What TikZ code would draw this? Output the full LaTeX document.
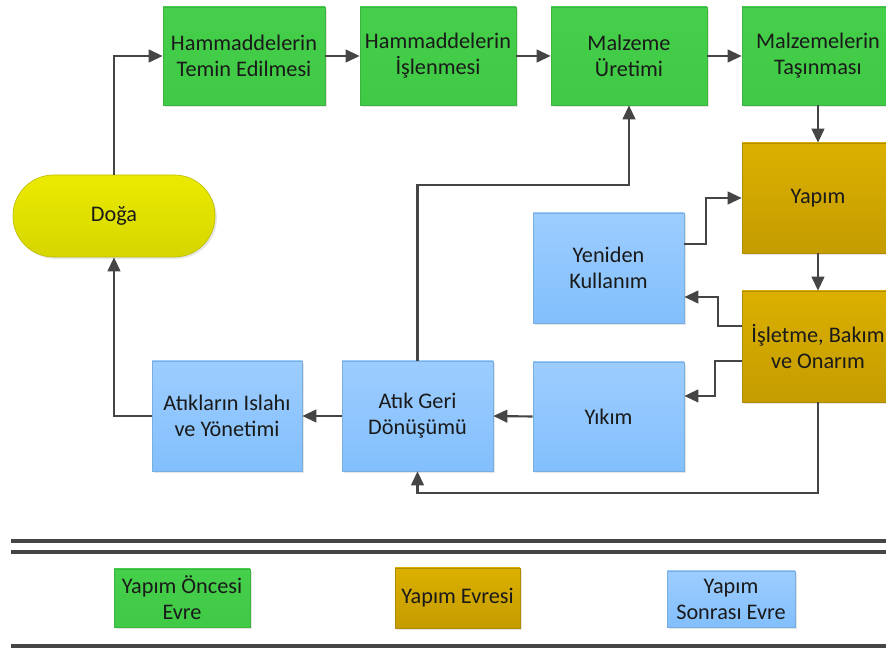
\documentclass[tikz,border=0pt]{standalone}
\usepackage{fontspec}
\setmainfont{Carlito}
\usetikzlibrary{arrows.meta,shadows}

\definecolor{linegray}{HTML}{454545}
\definecolor{textdark}{HTML}{1A1A1A}
\definecolor{grTop}{HTML}{46CF4A}
\definecolor{grBot}{HTML}{40C944}
\definecolor{grLine}{HTML}{3CB540}
\definecolor{auTop}{HTML}{DBB000}
\definecolor{auBot}{HTML}{C49C00}
\definecolor{auLine}{HTML}{B08C00}
\definecolor{blTop}{HTML}{9DCDFF}
\definecolor{blBot}{HTML}{82BFFC}
\definecolor{blLine}{HTML}{78AEE0}
\definecolor{yeTop}{HTML}{EAEA00}
\definecolor{yeBot}{HTML}{D6D600}
\definecolor{yeLine}{HTML}{BEBE00}

\tikzset{
  % box spanning (x1,y1)-(x2,y2), given in pixel units
  spanbox/.style args={#1,#2,#3,#4}{minimum width={(#3-#1)*0.75pt},
    minimum height={(#4-#2)*0.75pt}, anchor=center,
    at={({(#1+#3)/2},{(#2+#4)/2})}},
  pbox/.style={inner sep=0pt, align=center, text=textdark, line width=0.5pt,
    font=\fontsize{16.7}{19.5}\selectfont,
    drop shadow={opacity=0.2, shadow xshift=1.4pt, shadow yshift=-1.4pt}},
  prephase/.style={pbox, top color=grTop, bottom color=grBot, draw=grLine},
  buildphase/.style={pbox, top color=auTop, bottom color=auBot, draw=auLine},
  postphase/.style={pbox, top color=blTop, bottom color=blBot, draw=blLine},
  naturebox/.style={pbox, top color=yeTop, bottom color=yeBot, draw=yeLine,
    rounded corners=30.5pt},
  flow/.style={draw=linegray, line width=1.6pt,
    -{Triangle[length=10.5pt,width=9.5pt]}},
  rule/.style={draw=linegray, line width=2.3pt},
}

\begin{document}
\begin{tikzpicture}[x=0.75pt,y=-0.75pt]
\useasboundingbox (0,0) rectangle (886,655);
\clip (0,0) rectangle (886,655);
\fill[white] (0,0) rectangle (886,655);

% top row: pre-construction phase
\node[prephase, spanbox={163,7,325,105}] (temin) {Hammaddelerin\\Temin Edilmesi};
\node[prephase, spanbox={360,7,516,105}] (islenme) {Hammaddelerin\\İşlenmesi};
\node[prephase, spanbox={551,7,707,105}] (uretim) {Malzeme\\Üretimi};
\node[prephase, spanbox={742,7,894,105}] (tasima) {Malzemelerin\\Taşınması};

% nature
\node[naturebox, spanbox={13,175,215,257}] (doga) {Doğa};

% construction phase
\node[buildphase, spanbox={742,143,894,253}] (yapim) {Yapım};
\node[buildphase, spanbox={742,291,894,402}] (isletme) {İşletme, Bakım\\ve Onarım};

% post-construction phase
\node[postphase, spanbox={533,213,684,323}] (yeniden) {Yeniden\\Kullanım};
\node[postphase, spanbox={533,362,684,471}] (yikim) {Yıkım};
\node[postphase, spanbox={342,361,493,471}] (atik) {Atık Geri\\Dönüşümü};
\node[postphase, spanbox={152,361,302,471}] (islah) {Atıkların Islahı\\ve Yönetimi};

% connectors
\draw[flow] (doga.north) |- (temin.west);
\draw[flow] (temin.east) -- (islenme.west);
\draw[flow] (islenme.east) -- (uretim.west);
\draw[flow] (uretim.east) -- (tasima.west);
\draw[flow] (tasima.south) -- (yapim.north);
\draw[flow] (yapim.south) -- (isletme.north);
\draw[flow] ([yshift=18pt]yeniden.east) -- ++(22,0) |- (yapim.west);
\draw[flow] ([yshift=15.4pt]isletme.west) -- ++(-24,0) |- ([yshift=-21.75pt]yeniden.east);
\draw[flow] ([yshift=-10.9pt]isletme.west) -- ++(-27,0) |- ([yshift=15.4pt]yikim.east);
\draw[flow] (yikim.west) -- (atik.east);
\draw[flow] (isletme.south) -- ++(0,91) -| (atik.south);
\draw[flow] (atik.west) -- (islah.east);
\draw[flow] (islah.west) -| (doga.south);
\draw[flow] (atik.north) -- ++(0,-176) -| (uretim.south);

% legend frame
\draw[rule] (11,541) -- (890,541);
\draw[rule] (11,552) -- (890,552);
\draw[rule] (11,646) -- (890,646);

% legend
\node[prephase, spanbox={114,569,250,627}] (legpre) {Yapım Öncesi\\Evre};
\node[buildphase, spanbox={395,568,520,628}] (legbuild) {Yapım Evresi};
\node[postphase, spanbox={667,571,795,627}] (legpost) {Yapım\\Sonrası Evre};
\end{tikzpicture}
\end{document}
